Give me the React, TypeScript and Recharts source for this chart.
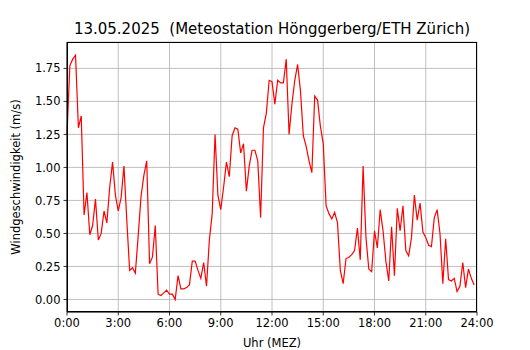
import { LineChart, Line, XAxis, YAxis, CartesianGrid } from 'recharts';

// Wind speed (m/s), one reading every 10 minutes, 0:00 .. 23:50
const windSpeed = [
  1.25, 1.77, 1.82, 1.85, 1.30, 1.39, 0.64, 0.81, 0.49, 0.56,
  0.76, 0.45, 0.50, 0.67, 0.58, 0.85, 1.04, 0.79, 0.67, 0.77,
  1.01, 0.60, 0.22, 0.24, 0.20, 0.48, 0.78, 0.94, 1.05, 0.27,
  0.32, 0.56, 0.04, 0.03, 0.05, 0.07, 0.04, 0.04, 0.00, 0.18,
  0.08, 0.08, 0.09, 0.11, 0.29, 0.29, 0.22, 0.16, 0.28, 0.10,
  0.45, 0.65, 1.25, 0.79, 0.68, 0.85, 1.04, 0.93, 1.24, 1.30,
  1.29, 1.11, 1.18, 0.82, 1.01, 1.13, 1.13, 1.05, 0.62, 1.30,
  1.41, 1.66, 1.65, 1.48, 1.66, 1.64, 1.64, 1.82, 1.25, 1.48,
  1.66, 1.78, 1.58, 1.24, 1.16, 1.05, 0.96, 1.54, 1.51, 1.31,
  1.18, 0.71, 0.65, 0.61, 0.66, 0.58, 0.22, 0.12, 0.31, 0.32,
  0.34, 0.37, 0.54, 0.30, 1.01, 0.47, 0.23, 0.21, 0.52, 0.39,
  0.68, 0.52, 0.29, 0.14, 0.55, 0.18, 0.69, 0.52, 0.71, 0.37,
  0.33, 0.47, 0.79, 0.60, 0.73, 0.51, 0.47, 0.41, 0.40, 0.62,
  0.68, 0.50, 0.12, 0.46, 0.15, 0.14, 0.16, 0.06, 0.10, 0.28,
  0.09, 0.23, 0.16, 0.11
];

const stepMinutes = 10;
const xTicks = [0, 180, 360, 540, 720, 900, 1080, 1260, 1440];
const yTicks = [0, 0.25, 0.5, 0.75, 1.0, 1.25, 1.5, 1.75];

const chartData = windSpeed.map((v, i) => ({ t: i * stepMinutes, v }));

const font = "'DejaVu Sans', sans-serif";

export default function App() {
  return (
    <div style={{ position: 'absolute', left: 0, top: 0, width: 530, height: 350, background: '#fff', fontFamily: font }}>

      {/* title */}
      <div style={{
        position: 'absolute', left: 0, width: 544, top: 20,
        textAlign: 'center', fontSize: 15, color: '#000', whiteSpace: 'pre'
      }}>
        {'13.05.2025  (Meteostation Hönggerberg/ETH Zürich)'}
      </div>

      <LineChart
        width={530}
        height={350}
        data={chartData}
        margin={{ top: 42, right: 53, left: 0, bottom: 0 }}
      >
        <CartesianGrid stroke="#b0b0b0" strokeWidth={0.8} />

        <XAxis
          dataKey="t"
          type="number"
          domain={[0, 1440]}
          ticks={xTicks}
          interval={0}
          height={38}
          tickSize={3.5}
          tickMargin={3}
          tickFormatter={(m: number) => `${m / 60}:00`}
          tick={{ fill: '#000', fontSize: 11.5, fontFamily: font }}
          axisLine={{ stroke: '#000', strokeWidth: 1 }}
          tickLine={{ stroke: '#000', strokeWidth: 0.8 }}
        />

        <YAxis
          type="number"
          domain={[-0.095, 1.95]}
          ticks={yTicks}
          interval={0}
          width={67}
          tickSize={3.5}
          tickMargin={3}
          tickFormatter={(v: number) => v.toFixed(2)}
          tick={{ fill: '#000', fontSize: 11.5, fontFamily: font }}
          axisLine={{ stroke: '#000', strokeWidth: 1 }}
          tickLine={{ stroke: '#000', strokeWidth: 0.8 }}
          allowDataOverflow
        />

        <Line
          type="linear"
          dataKey="v"
          stroke="#ff0000"
          strokeWidth={1.2}
          dot={false}
          activeDot={false}
          isAnimationActive={false}
        />
      </LineChart>

      {/* frame (top/right spines) */}
      <div style={{
        position: 'absolute', left: 66.5, top: 41.5, width: 410, height: 270,
        border: '1px solid #000', pointerEvents: 'none', boxSizing: 'border-box'
      }} />

      {/* x label */}
      <div style={{
        position: 'absolute', left: 0, width: 544, top: 336,
        textAlign: 'center', fontSize: 11.5, color: '#000'
      }}>
        Uhr (MEZ)
      </div>

      {/* y label */}
      <div style={{
        position: 'absolute', left: 16, top: 177, width: 0, height: 0
      }}>
        <div style={{
          position: 'absolute', left: 0, top: 0,
          transform: 'translate(-50%, -50%) rotate(-90deg)',
          fontSize: 11.5, color: '#000', whiteSpace: 'nowrap'
        }}>
          Windgeschwindigkeit (m/s)
        </div>
      </div>
    </div>
  );
}
